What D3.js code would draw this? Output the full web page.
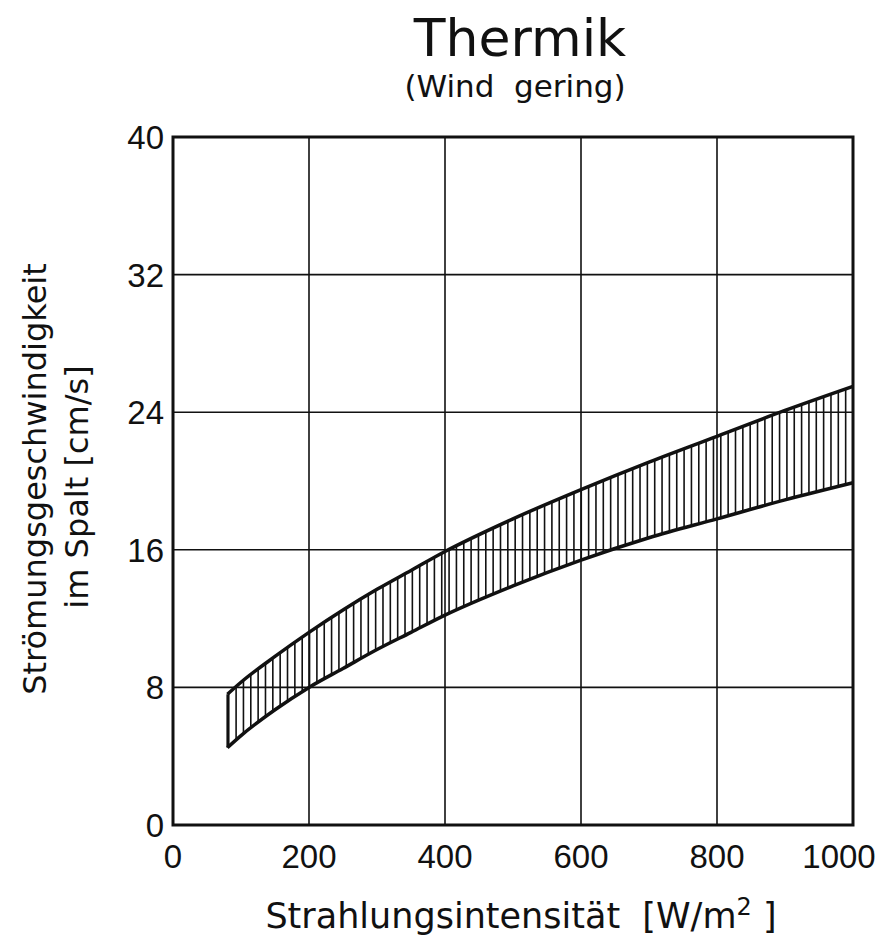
<!DOCTYPE html>
<html>
<head>
<meta charset="utf-8">
<script src="https://cdn.jsdelivr.net/npm/d3@7"></script>
<style>
  body { margin: 0; background: #fff; }
  text { font-family: "DejaVu Sans", sans-serif; fill: #111; white-space: pre; }
  .tick { font-family: "Liberation Sans", Arial, sans-serif; }
</style>
</head>
<body>
<div id="chart"></div>
<script>
// radiation intensity W/m^2
var xVals = [80, 100, 150, 200, 250, 300, 350, 400, 500, 600, 700, 800, 900, 1000];
// upper and lower limit of flow speed, cm/s
var upperVals = [7.6, 8.3, 9.8, 11.2, 12.5, 13.7, 14.8, 15.9, 17.8, 19.5, 21.1, 22.6, 24.1, 25.5];
var lowerVals = [4.5, 5.2, 6.7, 8.0, 9.1, 10.2, 11.2, 12.2, 13.9, 15.4, 16.7, 17.8, 18.9, 19.9];
var xTicks = [0, 200, 400, 600, 800, 1000];
var yTicks = [0, 8, 16, 24, 32, 40];

var width = 887, height = 935;
var margins = {l: 173, t: 137, r: 34, b: 110};

var svg = d3.select("#chart")
    .append("svg")
    .attr("width", width)
    .attr("height", height);

var x = d3.scaleLinear().domain([0, 1000]).range([margins.l, width - margins.r]);
var y = d3.scaleLinear().domain([0, 40]).range([height - margins.b, margins.t]);

var band = xVals.map(function (v, i) {
    return {x: v, hi: upperVals[i], lo: lowerVals[i]};
});

// grid
svg.append("g").selectAll("line")
    .data(xTicks.slice(1, -1))
    .enter().append("line")
    .attr("x1", function (d) { return x(d); })
    .attr("x2", function (d) { return x(d); })
    .attr("y1", y(0)).attr("y2", y(40))
    .attr("stroke", "#111").attr("stroke-width", 1.6);
svg.append("g").selectAll("line")
    .data(yTicks.slice(1, -1))
    .enter().append("line")
    .attr("x1", x(0)).attr("x2", x(1000))
    .attr("y1", function (d) { return y(d); })
    .attr("y2", function (d) { return y(d); })
    .attr("stroke", "#111").attr("stroke-width", 1.6);

// hatching inside band
var curveHi = d3.scaleLinear().domain(xVals).range(upperVals);
var curveLo = d3.scaleLinear().domain(xVals).range(lowerVals);
var hatch = d3.range(82, 1000, 10.8);
svg.append("g").selectAll("line")
    .data(hatch)
    .enter().append("line")
    .attr("x1", function (d) { return x(d); })
    .attr("x2", function (d) { return x(d); })
    .attr("y1", function (d) { return y(curveHi(d)); })
    .attr("y2", function (d) { return y(curveLo(d)); })
    .attr("stroke", "#111").attr("stroke-width", 1.6);

var lineHi = d3.line().x(function (d) { return x(d.x); }).y(function (d) { return y(d.hi); }).curve(d3.curveMonotoneX);
var lineLo = d3.line().x(function (d) { return x(d.x); }).y(function (d) { return y(d.lo); }).curve(d3.curveMonotoneX);
svg.append("path").datum(band).attr("d", lineHi)
    .attr("fill", "none").attr("stroke", "#111").attr("stroke-width", 3.5);
svg.append("path").datum(band).attr("d", lineLo)
    .attr("fill", "none").attr("stroke", "#111").attr("stroke-width", 3.5);
svg.append("line")
    .attr("x1", x(band[0].x)).attr("x2", x(band[0].x))
    .attr("y1", y(band[0].hi)).attr("y2", y(band[0].lo))
    .attr("stroke", "#111").attr("stroke-width", 2);

// frame
svg.append("rect")
    .attr("x", x(0)).attr("y", y(40))
    .attr("width", x(1000) - x(0)).attr("height", y(0) - y(40))
    .attr("fill", "none").attr("stroke", "#111").attr("stroke-width", 3);

// tick labels
svg.append("g").selectAll("text")
    .data(xTicks)
    .enter().append("text")
    .attr("class", "tick")
    .attr("x", function (d) { return x(d); })
    .attr("dx", function (d) { return d === 1000 ? -14 : 0; })
    .attr("y", y(0) + 43)
    .attr("text-anchor", "middle")
    .style("font-size", "33px")
    .text(function (d) { return d; });
svg.append("g").selectAll("text")
    .data(yTicks)
    .enter().append("text")
    .attr("class", "tick")
    .attr("x", x(0) - 9)
    .attr("y", function (d) { return y(d) + 12; })
    .attr("text-anchor", "end")
    .style("font-size", "33px")
    .text(function (d) { return d; });

// titles
svg.append("text")
    .attr("x", 520).attr("y", 56)
    .attr("text-anchor", "middle")
    .style("font-size", "52px")
    .text("Thermik");
svg.append("text")
    .attr("x", 515).attr("y", 97)
    .attr("text-anchor", "middle")
    .style("font-size", "31px")
    .text("(Wind  gering)");

var xl = svg.append("text")
    .attr("x", 521).attr("y", 928)
    .attr("text-anchor", "middle")
    .style("font-size", "35px");
xl.append("tspan").text("Strahlungsintensität  [W/m");
xl.append("tspan").attr("dy", -13).style("font-size", "24px").text("2");
xl.append("tspan").attr("dy", 13).text(" ]");

svg.append("text")
    .attr("transform", "translate(46,479) rotate(-90)")
    .attr("text-anchor", "middle")
    .style("font-size", "32px")
    .text("Strömungsgeschwindigkeit");
svg.append("text")
    .attr("transform", "translate(88,487) rotate(-90)")
    .attr("text-anchor", "middle")
    .style("font-size", "32px")
    .text("im Spalt [cm/s]");
</script>
</body>
</html>
